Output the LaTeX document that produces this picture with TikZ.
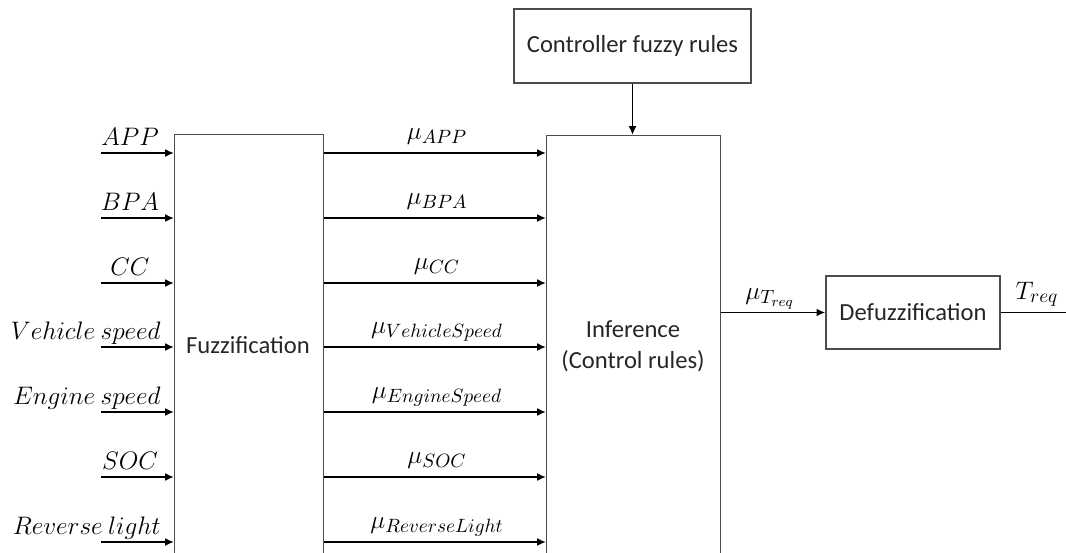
\documentclass[tikz,border=0pt]{standalone}
\usepackage{fontspec}
\setmainfont{Carlito}
\DeclareMathSizes{14}{14}{11}{8}
\usetikzlibrary{arrows.meta}
\usetikzlibrary{calc}

\begin{document}
\begin{tikzpicture}[x=0.02cm, y=-0.02cm,
    bloc/.style={draw=black!70, line width=0.75pt, inner sep=0pt},
    fleche/.style={line width=1pt, -{Latex[length=5pt,width=4.5pt]}},
    txt/.style={font=\fontsize{14}{17.5}\selectfont, text=black!85},
    lab/.style={font=\fontsize{14}{16}\selectfont, anchor=base, inner sep=0pt}]
    \useasboundingbox (0,0) rectangle (1066,552);
    \clip (0,0) rectangle (1066,552);
    \node [bloc, anchor=north west, minimum width=2.98cm, minimum height=9.6cm] (fuzz) at (174,134) {};
    \node [bloc, anchor=north west, minimum width=3.48cm, minimum height=9.6cm] (inf) at (546,135) {};
    \node [bloc, txt, minimum width=4.74cm, minimum height=1.48cm] (rules) at (632.5,46) {Controller fuzzy rules};
    \node [bloc, txt, minimum width=3.48cm, minimum height=1.46cm] (defuz) at (913,312.5) {Defuzzification};
    \node [txt] (fuzztxt) at (248,345) {Fuzzification};
    \node [txt, align=center] (inftxt) at (633,346) {Inference\\(Control rules)};
    \draw [fleche] (rules) -- (rules |- inf.north);
    \foreach \y/\xl/\an/\nom/\sub [count=\i] in {153/130/base/APP/APP,
      218/130/base/BPA/BPA, 283/130/base/CC/CC,
      347/161/base east/Vehicle\ speed/VehicleSpeed,
      412/161/base east/Engine\ speed/EngineSpeed,
      477/130/base/SOC/SOC,
      542/161/base east/Reverse\ light/ReverseLight}
    {
      \coordinate (in\i) at (101,\y);
      \draw [fleche] (in\i) -- (in\i -| fuzz.west);
      \node [lab, anchor=\an] (lin\i) at (\xl,\y-8) {$\nom$};
      \draw [fleche] (in\i -| fuzz.east) -- (in\i -| inf.west);
      \node [lab] (lmu\i) at (437,\y-14) {$\mu_{\sub}$};
    }
    \draw [fleche] (inf.east |- defuz.west) -- (defuz.west);
    \node [lab] (lmut) at (770,299) {$\mu_{T_{req}}$};
    \coordinate (out) at (1070,312.5);
    \draw [line width=1pt] (defuz.east) -- (out);
    \node [lab] (lout) at (1037,299) {$T_{req}$};
\end{tikzpicture}
\end{document}
